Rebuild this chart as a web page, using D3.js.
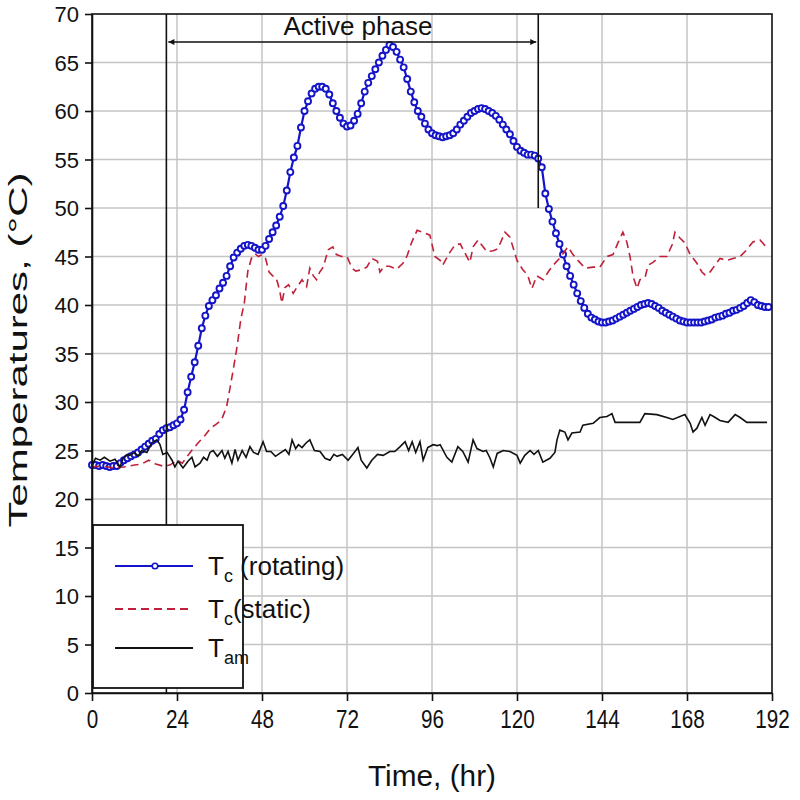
<!DOCTYPE html>
<html>
<head>
<meta charset="utf-8">
<script src="https://cdn.jsdelivr.net/npm/d3@7"></script>
<style>
  body { margin: 0; background: #fff; }
  svg text { font-family: "Liberation Sans", Arial, sans-serif; fill: #111; }
</style>
</head>
<body>
<div id="chart"></div>
<script>
// hourly readings of Tc (rotating), hour = index
const rotating = [
  23.5,23.5,23.4,23.5,23.4,23.3,23.4,23.4,23.7,24.0,
  24.2,24.4,24.6,24.8,25.1,25.4,25.7,26.0,26.2,26.7,
  27.1,27.3,27.4,27.6,27.8,28.2,29.2,31.0,32.6,34.1,
  35.8,37.6,38.9,39.9,40.5,41.0,41.7,42.3,43.0,44.0,
  44.9,45.4,45.8,46.1,46.2,46.1,45.9,45.7,45.7,46.1,
  46.8,47.5,48.2,49.1,50.2,51.8,53.7,55.2,56.4,58.3,
  60.0,61.0,61.8,62.3,62.5,62.5,62.3,61.7,60.8,60.0,
  59.3,58.7,58.4,58.5,59.0,59.7,60.8,62.0,62.9,63.6,
  64.3,65.0,65.7,66.3,66.8,66.6,66.1,65.3,64.5,63.3,
  62.0,60.9,60.0,59.4,58.7,58.1,57.7,57.5,57.4,57.3,
  57.4,57.5,57.7,58.1,58.6,59.0,59.4,59.8,60.0,60.2,
  60.3,60.2,60.0,59.8,59.5,59.1,58.6,58.1,57.6,56.9,
  56.3,55.9,55.7,55.5,55.5,55.4,55.1,54.2,51.5,49.9,
  48.6,47.4,46.3,45.2,44.0,43.0,42.1,41.2,40.4,39.7,
  39.1,38.7,38.5,38.3,38.2,38.2,38.3,38.4,38.6,38.8,
  39.0,39.2,39.4,39.6,39.8,40.0,40.1,40.2,40.1,39.9,
  39.7,39.4,39.2,39.0,38.8,38.6,38.4,38.3,38.2,38.2,
  38.2,38.2,38.2,38.3,38.4,38.5,38.7,38.8,38.9,39.1,
  39.2,39.4,39.5,39.7,39.9,40.2,40.5,40.3,40.0,39.9,
  39.8,39.8
];

// Tc (static)
const staticTime = [0,3,6,9,12,14,16,18,20,22,24,25.5,27.5,30,32,33.5,35,36.5,38,39,40,41,42,43,44,45,46,47,48,49,50,51,52,53,53.6,54.5,55.5,56.8,58,59.3,60.6,61.5,62.5,63.4,64.3,65.3,66.7,68,69,70.5,72,73.4,74.5,75.7,77.6,79,80.6,81.3,82.5,84,86,87.8,89,90.3,91.8,93.5,95.4,96.8,98.3,99,101,102.5,104,104.8,106.7,107.6,109,110,111.5,113.3,114.6,116.6,118,120,121.7,123,124.2,125.6,127.4,128.8,130.2,132,134.4,135.8,137.2,139.2,141.5,143.4,145.4,147.1,148.5,149.9,151,151.9,152.8,153.9,154.7,156.2,157,158.4,160.4,162.3,163.8,164.6,166,167.4,168.9,170.8,172.2,173.1,174.5,175.9,177.3,179.3,181,183,184.9,186.6,188.6,190.6];
const staticTemp = [23.3,23.4,23.2,23.3,23.5,23.6,24.0,23.6,23.4,23.5,24.0,23.7,24.7,25.8,26.6,27.3,27.7,28.1,29.5,31.5,33.6,35.8,38.5,40.2,43.5,44.8,45.3,45.0,45.2,44.8,43.4,43.0,42.8,41.5,40.2,41.8,42.1,41.2,41.9,42.6,41.9,43.8,43.0,42.6,43.4,43.9,45.7,46.0,45.2,45.0,45.0,43.8,43.5,43.6,43.9,44.8,44.5,43.4,44.0,44.0,43.7,44.3,45.1,46.5,47.7,47.5,47.2,45.0,44.6,44.1,45.4,46.2,46.3,45.7,44.4,46.0,46.7,46.2,45.5,45.6,45.8,47.5,47.0,44.6,43.6,43.1,41.7,43.0,42.6,43.4,44.1,44.8,46.0,45.2,44.6,43.8,43.9,43.9,45.0,45.2,46.4,47.5,46.5,45.0,42.9,41.7,42.6,42.9,44.1,44.4,45.0,45.0,46.2,47.5,46.9,46.4,45.2,44.3,43.4,43.1,43.4,44.1,44.8,44.6,44.8,45.0,45.7,46.5,46.7,45.9];

// Tam
const ambientTime = [0,1,2.3,3.5,5.1,6.5,7.9,8.8,10,10.7,12,13,14,15.5,16.9,18.3,19.2,20,21.2,22.6,23.4,24.3,25.7,27.1,28.2,29.1,30.5,31.5,32.5,33.3,34.2,35.4,36.7,37.5,38.4,39.5,40.4,41.2,42.4,43.5,44.6,45.6,46.9,48.3,49.3,50.5,51.8,53,54.6,55.6,56.5,57.5,58.3,59.3,60.5,61.5,62.8,64.4,65.8,67.2,68.3,69.2,70.7,72.3,73.6,75.1,76,77.6,79,80.6,82.2,84.1,85.5,87,88.4,89.4,90.4,91.4,92.6,93.5,94.8,96.3,97.5,98.3,100.2,101.6,103.3,104.7,106.2,107.6,108.7,110.4,111.3,112.4,113.3,114.4,116.1,118,120,120.9,122.2,123.7,124.8,126,127.3,129.3,130.7,131.3,132.1,133.5,134.4,135.5,137.8,138.6,141.5,143.4,145.4,146.8,147.7,151,154.7,156.1,159.5,162.3,164,167.4,168.9,169.7,170.8,172.2,173.1,174.5,175.5,177.3,179.6,181.6,183,184.9,190.6];
const ambientTemp = [23.5,24.2,24.0,24.3,23.9,24.1,23.3,24.2,24.6,24.5,24.8,24.4,25.0,24.8,25.8,26.1,25.6,24.6,24.8,24.0,23.3,23.9,23.2,23.9,24.3,23.3,23.7,24.3,24.0,24.8,25.0,24.4,25.0,24.2,24.9,23.7,25.1,24.0,25.0,24.3,25.4,24.8,24.6,25.9,24.9,24.9,24.4,24.7,25.1,24.6,26.1,25.2,25.6,25.3,25.8,26.1,25.0,24.9,24.2,24.0,24.6,24.4,24.6,24.0,24.6,25.3,24.0,23.2,24.0,24.6,24.5,24.9,24.9,25.4,25.9,25.0,25.9,24.8,25.9,24.0,25.3,25.6,25.5,25.6,24.3,23.8,25.4,24.9,23.8,26.1,25.2,24.9,25.0,24.2,23.3,24.7,25.0,24.9,24.5,23.7,24.5,25.0,24.6,25.0,23.8,24.2,24.8,26.1,27.1,26.9,26.1,26.8,26.9,27.6,27.8,28.4,28.5,28.8,27.9,27.9,27.9,28.8,28.7,28.4,28.2,28.7,27.8,26.9,27.3,28.4,27.6,28.7,28.5,28.1,27.9,28.7,28.4,27.9,27.9];

const xTicks = [0,24,48,72,96,120,144,168,192];
const yTicks = [0,5,10,15,20,25,30,35,40,45,50,55,60,65,70];
const activeStart = 21, activeEnd = 126, activeMarkTop = 50;

(function(){
    const W = 800, H = 800;
    const left = 92, right = 772, top = 14, bottom = 693;

    const svg = d3.select('#chart').append('svg')
        .attr('width', W).attr('height', H);

    const x = d3.scaleLinear().domain([0,192]).range([left,right]);
    const y = d3.scaleLinear().domain([0,70]).range([bottom,top]);

    // grid
    const grid = svg.append('g').attr('stroke','#c4c4c4').attr('stroke-width',1.5);
    grid.selectAll('line.h').data(yTicks.slice(1,-1)).enter().append('line')
        .attr('x1',left).attr('x2',right).attr('y1',d=>y(d)).attr('y2',d=>y(d));
    grid.selectAll('line.v').data(xTicks.slice(1,-1)).enter().append('line')
        .attr('y1',top).attr('y2',bottom).attr('x1',d=>x(d)).attr('x2',d=>x(d));

    // series
    const line = d3.line().x(d=>x(d[0])).y(d=>y(d[1]));
    const rotData = rotating.map((v,i)=>[i,v]);
    const statData = staticTime.map((t,i)=>[t,staticTemp[i]]);
    const ambData = ambientTime.map((t,i)=>[t,ambientTemp[i]]);

    svg.append('path').datum(rotData)
        .attr('fill','none').attr('stroke','#1414c8').attr('stroke-width',2.2)
        .attr('d',line);
    svg.append('g').selectAll('circle').data(rotData).enter().append('circle')
        .attr('cx',d=>x(d[0])).attr('cy',d=>y(d[1])).attr('r',3)
        .attr('fill','#fff').attr('stroke','#1414c8').attr('stroke-width',1.9);

    svg.append('path').datum(statData)
        .attr('fill','none').attr('stroke','#c0203a').attr('stroke-width',1.6)
        .attr('stroke-dasharray','8,5')
        .attr('d',line);

    svg.append('path').datum(ambData)
        .attr('fill','none').attr('stroke','#111').attr('stroke-width',1.6)
        .attr('d',line);

    // frame
    svg.append('rect').attr('x',left).attr('y',top)
        .attr('width',right-left).attr('height',bottom-top)
        .attr('fill','none').attr('stroke','#111').attr('stroke-width',1.6);

    // axes
    const yAxis = svg.append('g').attr('transform',`translate(${left},0)`)
        .call(d3.axisLeft(y).tickValues(yTicks).tickSize(7).tickSizeOuter(0).tickPadding(6));
    const xAxis = svg.append('g').attr('transform',`translate(0,${bottom})`)
        .call(d3.axisBottom(x).tickValues(xTicks).tickSize(8).tickSizeOuter(0).tickPadding(9));
    [xAxis,yAxis].forEach(a=>{
        a.select('.domain').attr('stroke','#111').attr('stroke-width',1.6);
        a.selectAll('.tick line').attr('stroke','#111').attr('stroke-width',1.6);
        a.selectAll('text').style('font-family','"Liberation Sans", Arial, sans-serif')
            .attr('fill','#222');
    });
    yAxis.selectAll('text').style('font-size','22px').attr('dy','0.36em');
    xAxis.selectAll('text').style('font-size','26px')
        .attr('textLength',d=>String(d).length*11.5)
        .attr('lengthAdjust','spacingAndGlyphs');

    svg.append('text').attr('x',432).attr('y',786)
        .attr('text-anchor','middle').style('font-size','29px')
        .attr('textLength',128).attr('lengthAdjust','spacingAndGlyphs')
        .text('Time, (hr)');
    svg.append('text').attr('transform',`translate(27,350) rotate(-90)`)
        .attr('text-anchor','middle').style('font-size','25px')
        .attr('textLength',355).attr('lengthAdjust','spacingAndGlyphs')
        .text('Temperatures, (°C)');

    // active phase annotation
    const ann = svg.append('g').attr('stroke','#111').attr('stroke-width',1.6);
    ann.append('line').attr('x1',x(activeStart)).attr('x2',x(activeStart)).attr('y1',top).attr('y2',bottom);
    ann.append('line').attr('x1',x(activeEnd)).attr('x2',x(activeEnd)).attr('y1',top).attr('y2',y(activeMarkTop));
    const ya = 42;
    ann.append('line').attr('x1',x(activeStart)+2).attr('x2',x(activeEnd)-2).attr('y1',ya).attr('y2',ya);
    ann.append('path').attr('fill','#111').attr('stroke','none')
        .attr('d',`M${x(activeStart)+2},${ya} l6,-3 l0,6 Z M${x(activeEnd)-2},${ya} l-6,-3 l0,6 Z`);
    svg.append('text').attr('x',358).attr('y',35)
        .attr('text-anchor','middle').style('font-size','26px')
        .attr('textLength',149).attr('lengthAdjust','spacingAndGlyphs')
        .text('Active phase');

    // legend
    const lg = svg.append('g');
    lg.append('rect').attr('x',93).attr('y',525).attr('width',150).attr('height',163)
        .attr('fill','#fff').attr('stroke','#111').attr('stroke-width',1.8);
    const items = [
        {y:566, sub:'c', rest:' (rotating)', color:'#1414c8', dash:null, marker:true},
        {y:609, sub:'c', rest:'(static)', color:'#c0203a', dash:'8,5', marker:false},
        {y:648, sub:'am', rest:'', color:'#111', dash:null, marker:false}
    ];
    items.forEach(it=>{
        lg.append('line').attr('x1',115).attr('x2',193).attr('y1',it.y).attr('y2',it.y)
            .attr('stroke',it.color).attr('stroke-width',1.8)
            .attr('stroke-dasharray',it.dash);
        if (it.marker) lg.append('circle').attr('cx',155).attr('cy',it.y).attr('r',2.8)
            .attr('fill','#fff').attr('stroke',it.color).attr('stroke-width',1.6);
        const t = lg.append('text').attr('x',208).attr('y',it.y+9).style('font-size','26px');
        t.append('tspan').text('T');
        t.append('tspan').attr('dy',7).style('font-size','18px').text(it.sub);
        if (it.rest) t.append('tspan').attr('dy',-7).text(it.rest);
    });
})();
</script>
</body>
</html>
